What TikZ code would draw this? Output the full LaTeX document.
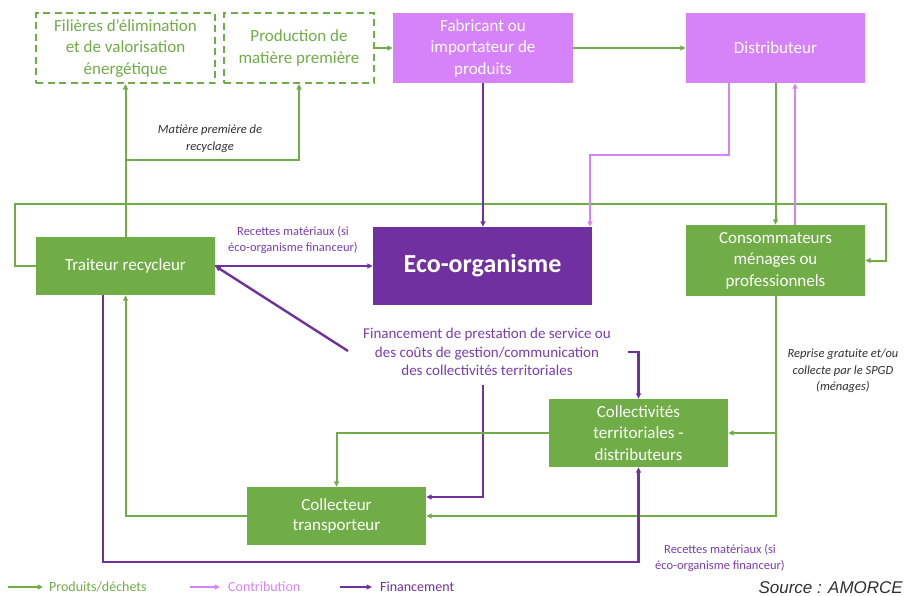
\documentclass[tikz,border=0pt]{standalone}
\usepackage{fontspec}
\setmainfont{Carlito}
\newfontfamily\srcfont{Liberation Sans}
\usetikzlibrary{arrows.meta}
\definecolor{vert}{HTML}{70AD47}
\definecolor{rose}{HTML}{D683FA}
\definecolor{violet}{HTML}{7030A0}
\definecolor{violtxt}{HTML}{7A3DB0}
\definecolor{gristxt}{HTML}{303030}
\begin{document}
\begin{tikzpicture}[x=1pt,y=-1pt,
 nbox/.style={rectangle, inner sep=0pt, align=center, text=white, font=\fontsize{17}{21.5}\selectfont},
 gbox/.style={nbox, fill=vert},
 rbox/.style={nbox, fill=rose},
 dbox/.style={nbox, draw=vert, line width=2.2pt, dash pattern=on 7pt off 4.5pt, text=vert},
 arrtip/.style={-{Triangle[length=5.5pt,width=5pt]}},
 garr/.style={draw=vert, line width=2pt, arrtip},
 carr/.style={draw=rose, line width=1.8pt, arrtip},
 parr/.style={draw=violet, line width=2.4pt, arrtip},
 lbl/.style={align=center, inner sep=0pt},
]
\useasboundingbox (0,0) rectangle (905,595);

% boxes
\node[dbox, minimum width=179, minimum height=70] (elim) at (125.5,48) {Filières d’élimination\\et de valorisation\\énergétique};
\node[dbox, minimum width=150, minimum height=70] (prod) at (299,48) {Production de\\matière première};
\node[rbox, minimum width=180, minimum height=70] (fab) at (483,48) {Fabricant ou\\importateur de\\produits};
\node[rbox, minimum width=179, minimum height=70] (dist) at (775.5,48) {Distributeur};
\node[nbox, fill=violet, minimum width=219, minimum height=78, font=\bfseries\fontsize{26}{30}\selectfont] (eco) at (482.5,266) {Eco-organisme};
\node[gbox, minimum width=179, minimum height=58] (trait) at (125.5,266) {Traiteur recycleur};
\node[gbox, minimum width=179, minimum height=71] (cons) at (775.5,260.5) {Consommateurs\\ménages ou\\professionnels};
\node[gbox, minimum width=179, minimum height=68] (coll) at (638.5,433) {Collectivités\\territoriales -\\distributeurs};
\node[gbox, minimum width=179, minimum height=58, font=\fontsize{17}{20}\selectfont] (colt) at (336.5,516) {Collecteur\\transporteur};

% labels
\node[lbl, text=gristxt, font=\itshape\fontsize{12.5}{17}\selectfont] (mpr) at (210,139) {Matière première de\\recyclage};
\node[lbl, text=violtxt, font=\fontsize{12.5}{16}\selectfont] (rec1) at (293,240) {Recettes matériaux (si\\éco-organisme financeur)};
\node[lbl, text=violtxt, font=\fontsize{15}{18.5}\selectfont] (fin) at (487,352) {Financement de prestation de service ou\\des coûts de gestion/communication\\des collectivités territoriales};
\node[lbl, text=gristxt, font=\itshape\fontsize{12.5}{16.5}\selectfont] (rep) at (843,371) {Reprise gratuite et/ou\\collecte par le SPGD\\(ménages)};
\node[lbl, text=violtxt, font=\fontsize{12.5}{16}\selectfont] (rec2) at (720,558) {Recettes matériaux (si\\éco-organisme financeur)};

% helper coordinates
\coordinate (lpL) at (15,204);
\coordinate (lpR) at (886,204);
\coordinate (br) at (125.5,160);
\coordinate (finL) at (348,351);
\coordinate (finR) at (628,352);
\coordinate (finB) at (483,385);

% connectors
\draw[garr] (prod) -- (fab);
\draw[garr] (fab) -- (dist);
\draw[garr] (trait.west) -| (lpL) -- (lpR) |- (cons.east);
\draw[parr] (fab.south) -- (fab.south |- eco.north);
\draw[carr] ([xshift=-46.5pt]dist.south) -- ++(0,72) -| ([xshift=107.5pt]eco.north);
\draw[garr] (dist) -- (cons);
\draw[carr] ([xshift=19.5pt]cons.north) -- ([xshift=19.5pt]dist.south);
\draw[garr] (trait.north) -- (trait.north |- elim.south);
\draw[garr] (br) -| (prod.south);
\draw[parr] (trait.east) -- (eco.west);
\draw[parr] (finL) -- (trait.east);
\draw[parr] (finR) -| (coll.north);
\draw[parr] (finB) |- ([yshift=19pt]colt.east);
\draw[garr] (coll.west) -| (colt.north);
\draw[garr] (colt.west) -| (trait.south);
\draw[garr] (cons.south) |- (colt.east);
\draw[garr] (cons.south |- coll.east) -- (coll.east);
\draw[parr] ([xshift=-22.5pt]trait.south) |- (coll.south |- 0,562) -- (coll.south);

% legend
\coordinate (l1a) at (8,587); \coordinate (l1b) at (43,587);
\coordinate (l2a) at (190,587); \coordinate (l2b) at (220,587);
\coordinate (l3a) at (340,587); \coordinate (l3b) at (372,587);
\draw[garr, line width=1.6pt] (l1a) -- (l1b);
\draw[carr, line width=1.6pt] (l2a) -- (l2b);
\draw[parr, line width=1.8pt] (l3a) -- (l3b);
\node[anchor=west, inner sep=0pt, text=vert, font=\fontsize{14}{16}\selectfont] (l1t) at (49,587) {Produits/déchets};
\node[anchor=west, inner sep=0pt, text=rose, font=\fontsize{14}{16}\selectfont] (l2t) at (228,587) {Contribution};
\node[anchor=west, inner sep=0pt, text=violet, font=\fontsize{14}{16}\selectfont] (l3t) at (380,587) {Financement};

\node[anchor=base east, inner sep=0pt, text=gristxt, font=\srcfont\itshape\fontsize{17}{20}\selectfont] (src) at (903,593) {Source : AMORCE};
\end{tikzpicture}
\end{document}
